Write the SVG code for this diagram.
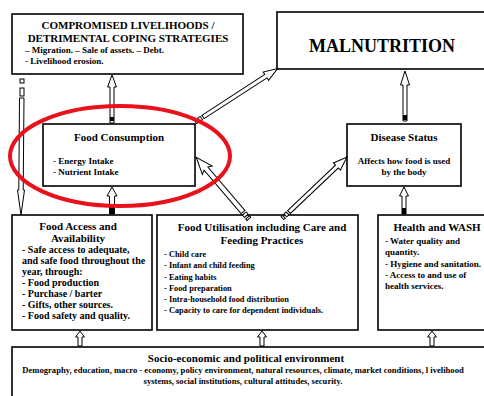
<svg xmlns="http://www.w3.org/2000/svg" width="484" height="396" viewBox="0 0 484 396" font-family="'Liberation Serif', 'Times New Roman', serif" font-weight="bold">
  <defs>
    <style>
      .box { fill: #ffffff; stroke: #000000; stroke-width: 1.6; }
      .arr { fill: #ffffff; stroke: #000000; stroke-width: 1; stroke-linejoin: miter; }
      .stripe { fill: #ffffff; stroke: #000000; stroke-width: 1; }
      .blk { fill: #000000; }
      .t { font-size: 11px; text-anchor: middle; }
      .b { font-size: 9px; }
      .c { font-size: 9px; text-anchor: middle; }
      .u { font-size: 8.4px; }
      .fa { font-size: 10px; }
      .env { font-size: 8.6px; text-anchor: middle; }
    </style>
    <!-- hollow up arrow, tip at origin -->
    <path id="upSmall" d="M0,0 L4.5,6 L2,6 L2,15 L-2,15 L-2,6 L-4.5,6 Z"/>
  </defs>

  <rect width="484" height="396" fill="#ffffff"/>

  <g id="coping">
    <rect class="box" x="12" y="14" width="231" height="60"/>
    <text class="t" x="128" y="29" font-size="12.5">COMPROMISED LIVELIHOODS /</text>
    <text class="t" x="128" y="42" font-size="12.5">DETRIMENTAL COPING STRATEGIES</text>
    <text class="b" x="25" y="53">– Migration. – Sale of assets. – Debt.</text>
    <text class="b" x="25" y="64">- Livelihood erosion.</text>
  </g>

  <g id="malnutrition">
    <rect class="box" x="277" y="12" width="220" height="57"/>
    <text x="382" y="52" font-size="18" text-anchor="middle">MALNUTRITION</text>
  </g>

  <g id="food-consumption">
    <rect class="box" x="43" y="124" width="152" height="62"/>
    <text class="t" x="119" y="141">Food Consumption</text>
    <text class="b" x="53" y="164">- Energy Intake</text>
    <text class="b" x="53" y="175">- Nutrient Intake</text>
  </g>

  <g id="disease-status">
    <rect class="box" x="347" y="124" width="114" height="62"/>
    <text class="t" x="404" y="141">Disease Status</text>
    <text class="c" x="404" y="164">Affects how food is used</text>
    <text class="c" x="404" y="175">by the body</text>
  </g>

  <g id="food-access">
    <rect class="box" x="12" y="215" width="140" height="115"/>
    <text class="t" x="78" y="230">Food Access and</text>
    <text class="t" x="78" y="242">Availability</text>
    <text class="fa" x="22" y="253">- Safe access to adequate,</text>
    <text class="fa" x="22" y="264">and safe food throughout the</text>
    <text class="fa" x="22" y="275">year, through:</text>
    <text class="fa" x="22" y="286">- Food production</text>
    <text class="fa" x="22" y="297">- Purchase / barter</text>
    <text class="fa" x="22" y="308">- Gifts, other sources.</text>
    <text class="fa" x="22" y="319">- Food safety and quality.</text>
  </g>

  <g id="food-utilisation">
    <rect class="box" x="157" y="215" width="201" height="115"/>
    <text class="t" x="262" y="231">Food Utilisation including Care and</text>
    <text class="t" x="262" y="244">Feeding Practices</text>
    <text class="u" x="164" y="257">- Child care</text>
    <text class="u" x="164" y="268">- Infant and child feeding</text>
    <text class="u" x="164" y="280">- Eating habits</text>
    <text class="u" x="164" y="291">- Food preparation</text>
    <text class="u" x="164" y="302">- Intra-household food distribution</text>
    <text class="u" x="164" y="313">- Capacity to care for dependent individuals.</text>
  </g>

  <g id="health-wash">
    <rect class="box" x="378" y="215" width="120" height="115"/>
    <text class="t" x="437" y="231">Health and WASH</text>
    <text class="b" x="385" y="244">- Water quality and</text>
    <text class="b" x="385" y="255">quantity.</text>
    <text class="b" x="385" y="267">- Hygiene and sanitation.</text>
    <text class="b" x="385" y="278">- Access to and use of</text>
    <text class="b" x="385" y="289">health services.</text>
  </g>

  <g id="environment">
    <rect class="box" x="12" y="347" width="490" height="60"/>
    <text class="t" x="246" y="362">Socio-economic and political environment</text>
    <text class="env" x="243" y="373">Demography, education, macro - economy, policy environment, natural resources, climate, market conditions, l ivelihood</text>
    <text class="env" x="243" y="384">systems, social institutions, cultural attitudes, security.</text>
  </g>

  <g id="connectors">
    <!-- thin striped arrow: coping strategies down to food access -->
    <rect class="stripe" x="20" y="79" width="4" height="4"/>
    <rect class="stripe" x="20" y="88" width="4" height="8"/>
    <path class="arr" d="M19.5,98 L24,98 L23.2,190 L24.5,190 L21,215 L17.5,190 L18.8,190 Z"/>

    <!-- food consumption up to coping strategies -->
    <path class="arr" d="M112,75 L116.5,87 L114,87 L114,123 L110,123 L110,87 L107.5,87 Z"/>
    <rect class="blk" x="110" y="117" width="4" height="4"/>

    <!-- food access up to food consumption -->
    <path class="arr" d="M112,187 L117,196 L114.5,196 L114.5,214 L109.5,214 L109.5,196 L107,196 Z"/>
    <rect class="blk" x="109.5" y="207" width="5" height="7"/>

    <!-- disease status up to malnutrition -->
    <path class="arr" d="M405,71 L409.5,85 L407,85 L407,121 L403,121 L403,85 L400.5,85 Z"/>
    <rect class="blk" x="403" y="115" width="4" height="5"/>

    <!-- health and WASH up to disease status -->
    <path class="arr" d="M404,187 L408.5,196 L406,196 L406,214 L402,214 L402,196 L399.5,196 Z"/>
    <rect class="blk" x="402" y="208" width="4" height="6"/>

    <!-- food consumption to malnutrition -->
    <g transform="translate(203,117) rotate(-33)">
      <rect class="stripe" x="-9" y="-2" width="2" height="4"/>
      <rect class="stripe" x="-5" y="-2" width="3" height="4"/>
      <path class="arr" d="M0,-2 L75,-2 L75,-5 L89,0 L75,5 L75,2 L0,2 Z"/>
    </g>

    <!-- food utilisation to food consumption -->
    <g transform="translate(243,212) rotate(-130.5)">
      <rect class="stripe" x="-9" y="-2.5" width="2" height="5"/>
      <rect class="stripe" x="-5" y="-2.5" width="3" height="5"/>
      <path class="arr" d="M0,-2.5 L57,-2.5 L55,-6.5 L72,0 L55,6.5 L57,2.5 L0,2.5 Z"/>
    </g>

    <!-- food utilisation to disease status -->
    <g transform="translate(289,212) rotate(-43.5)">
      <rect class="stripe" x="-9" y="-2" width="2" height="4"/>
      <rect class="stripe" x="-5" y="-2" width="3" height="4"/>
      <path class="arr" d="M0,-2 L66,-2 L66,-5 L80,0 L66,5 L66,2 L0,2 Z"/>
    </g>

    <!-- environment up to the three pillars -->
    <use href="#upSmall" class="arr" x="80" y="331"/>
    <use href="#upSmall" class="arr" x="262" y="331"/>
    <use href="#upSmall" class="arr" x="432" y="331"/>
  </g>

  <!-- highlight round food consumption -->
  <ellipse cx="120" cy="156" rx="110" ry="50" fill="none" stroke="#e8121c" stroke-width="4"/>
</svg>
